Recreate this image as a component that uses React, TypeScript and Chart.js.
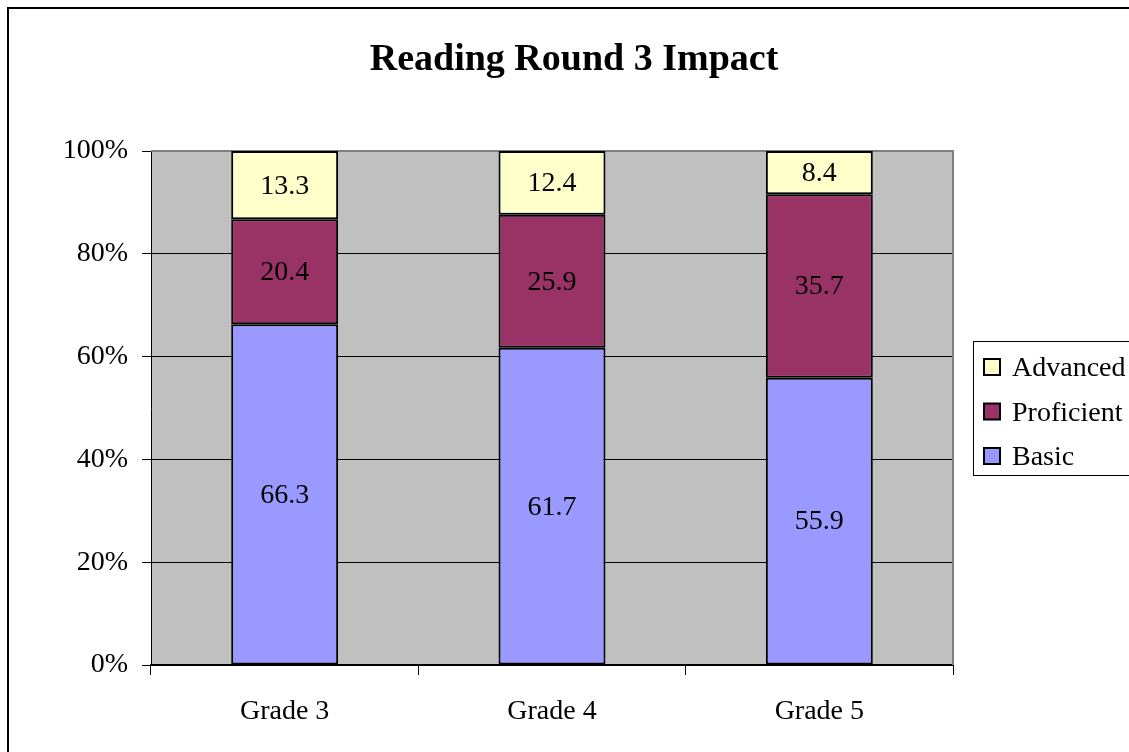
import React, { useEffect, useRef } from "react";
import { Chart, registerables } from "chart.js";

Chart.register(...registerables);

const TITLE = "Reading Round 3 Impact";
const CATEGORIES = ["Grade 3", "Grade 4", "Grade 5"];
const BASIC = [66.3, 61.7, 55.9];
const PROFICIENT = [20.4, 25.9, 35.7];
const ADVANCED = [13.3, 12.4, 8.4];
const SERIES_LABELS = ["Basic", "Proficient", "Advanced"];
const SERIES_COLORS = ["#9999FF", "#993366", "#FFFFCC"];
const Y_TICKS = [0, 20, 40, 60, 80, 100];

const FONT = "'Liberation Serif', 'Times New Roman', serif";
const W = 1134;
const H = 770;

export default function App() {
  const ref = useRef<HTMLCanvasElement | null>(null);

  useEffect(() => {
    if (!ref.current) return;

    const decor = {
      id: "decor",
      beforeDraw(chart: any) {
        const { ctx, chartArea: a } = chart;
        ctx.save();
        ctx.fillStyle = "#FFFFFF";
        ctx.fillRect(0, 0, chart.width, chart.height);
        ctx.fillStyle = "#C0C0C0";
        ctx.fillRect(a.left, a.top, a.right - a.left, a.bottom - a.top);
        ctx.strokeStyle = "#000000";
        ctx.lineWidth = 2;
        ctx.strokeRect(1, 1, chart.width - 2, chart.height - 2);
        ctx.fillStyle = "#000000";
        ctx.font = `bold 38px ${FONT}`;
        ctx.textAlign = "center";
        ctx.textBaseline = "alphabetic";
        ctx.fillText(TITLE, chart.width / 2, 63);
        ctx.restore();
      },
      beforeDatasetsDraw(chart: any) {
        const { ctx, chartArea: a } = chart;
        ctx.save();
        ctx.strokeStyle = "#808080";
        ctx.lineWidth = 2;
        ctx.beginPath();
        ctx.moveTo(a.left, a.top);
        ctx.lineTo(a.right, a.top);
        ctx.lineTo(a.right, a.bottom);
        ctx.stroke();
        ctx.restore();
      },
      afterDatasetsDraw(chart: any) {
        const { ctx } = chart;
        ctx.save();
        ctx.fillStyle = "#000000";
        ctx.font = `28px ${FONT}`;
        ctx.textAlign = "center";
        ctx.textBaseline = "middle";
        chart.data.datasets.forEach((ds: any, di: number) => {
          const meta = chart.getDatasetMeta(di);
          meta.data.forEach((el: any, i: number) => {
            const y = (el.y + el.base) / 2;
            ctx.fillText(String(ds.data[i]), el.x, y + 1);
          });
        });
        ctx.restore();
      },
      afterDraw(chart: any) {
        const { ctx } = chart;
        ctx.save();
        const bx = 966, by = 334, bh = 134;
        ctx.fillStyle = "#FFFFFF";
        ctx.fillRect(bx, by, chart.width - bx + 5, bh);
        ctx.strokeStyle = "#000000";
        ctx.lineWidth = 1;
        ctx.strokeRect(bx + 0.5, by + 0.5, chart.width - bx + 5, bh);
        const order = [2, 1, 0];
        const centers = [360, 404.5, 449];
        ctx.font = `28px ${FONT}`;
        ctx.textAlign = "left";
        ctx.textBaseline = "alphabetic";
        order.forEach((di, k) => {
          const ds = chart.data.datasets[di];
          const cy = centers[k];
          ctx.fillStyle = ds.backgroundColor;
          ctx.fillRect(977, cy - 8, 16, 16);
          ctx.strokeStyle = "#000000";
          ctx.lineWidth = 2;
          ctx.strokeRect(977, cy - 8, 16, 16);
          ctx.fillStyle = "#000000";
          ctx.fillText(ds.label, 1005, cy + 9);
        });
        ctx.restore();
      },
    };

    const chart = new Chart(ref.current, {
      type: "bar",
      data: {
        labels: CATEGORIES,
        datasets: [
          { label: SERIES_LABELS[0], data: BASIC, backgroundColor: SERIES_COLORS[0] },
          { label: SERIES_LABELS[1], data: PROFICIENT, backgroundColor: SERIES_COLORS[1] },
          { label: SERIES_LABELS[2], data: ADVANCED, backgroundColor: SERIES_COLORS[2] },
        ].map((d) => ({
          ...d,
          borderColor: "#000000",
          borderWidth: 2,
          borderSkipped: false,
          categoryPercentage: 1,
          barPercentage: 0.4,
        })),
      },
      options: {
        responsive: false,
        animation: false,
        devicePixelRatio: 1,
        layout: { padding: { top: 144, right: 188, bottom: 42, left: 0 } },
        plugins: {
          legend: { display: false },
          title: { display: false },
          tooltip: { enabled: false },
        },
        scales: {
          x: {
            stacked: true,
            offset: true,
            grid: {
              offset: true,
              drawOnChartArea: false,
              drawTicks: true,
              tickLength: 10,
              color: "#000000",
              lineWidth: 1,
            },
            border: { display: true, color: "#000000", width: 2 },
            ticks: {
              color: "#000000",
              font: { family: FONT, size: 28 },
              padding: 20,
              maxRotation: 0,
            },
            afterFit(scale: any) {
              scale.height = 70;
            },
          },
          y: {
            stacked: true,
            min: 0,
            max: 100,
            afterBuildTicks(scale: any) {
              scale.ticks = Y_TICKS.map((v) => ({ value: v }));
            },
            grid: {
              drawTicks: true,
              tickLength: 9,
              color: (c: any) => (c.tick && c.tick.value === 100 ? "#808080" : "#000000"),
              tickColor: "#000000",
              lineWidth: 1,
            },
            border: { display: true, color: "#000000", width: 1 },
            ticks: {
              color: "#000000",
              font: { family: FONT, size: 28 },
              padding: 14,
              callback: (v: any) => `${v}%`,
            },
            afterFit(scale: any) {
              scale.width = 144;
            },
          },
        },
      },
      plugins: [decor],
    });

    return () => chart.destroy();
  }, []);

  return (
    <div
      style={{
        position: "fixed",
        left: 7,
        top: 7,
        width: 1129 - 7,
        height: 752 - 7,
        overflow: "hidden",
      }}
    >
      <canvas ref={ref} width={W} height={H} style={{ width: W, height: H, display: "block" }} />
    </div>
  );
}
